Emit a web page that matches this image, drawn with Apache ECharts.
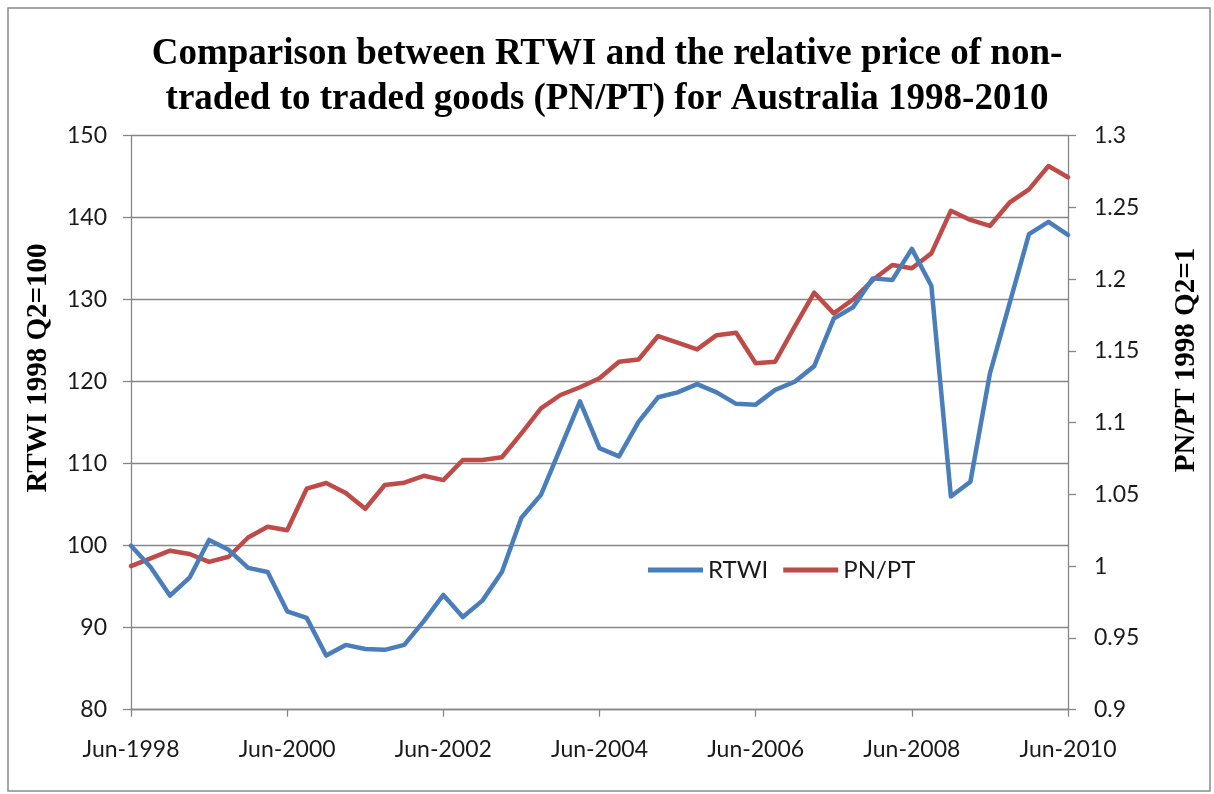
<!DOCTYPE html>
<html>
<head>
<meta charset="utf-8">
<script src="https://cdn.jsdelivr.net/npm/echarts@6/dist/echarts.min.js"></script>
<style>
html,body{margin:0;padding:0;background:#fff;}
#chart{width:1214px;height:794px;}
</style>
</head>
<body>
<div id="chart"></div>
<script>
// Quarterly categories Jun-1998 .. Jun-2010
const quarters = [
  'Jun-1998','Sep-1998','Dec-1998','Mar-1999','Jun-1999','Sep-1999','Dec-1999','Mar-2000',
  'Jun-2000','Sep-2000','Dec-2000','Mar-2001','Jun-2001','Sep-2001','Dec-2001','Mar-2002',
  'Jun-2002','Sep-2002','Dec-2002','Mar-2003','Jun-2003','Sep-2003','Dec-2003','Mar-2004',
  'Jun-2004','Sep-2004','Dec-2004','Mar-2005','Jun-2005','Sep-2005','Dec-2005','Mar-2006',
  'Jun-2006','Sep-2006','Dec-2006','Mar-2007','Jun-2007','Sep-2007','Dec-2007','Mar-2008',
  'Jun-2008','Sep-2008','Dec-2008','Mar-2009','Jun-2009','Sep-2009','Dec-2009','Mar-2010',
  'Jun-2010'
];
const rtwi = [
  100.0, 97.4, 93.9, 96.1, 100.7, 99.5, 97.3, 96.8,
  92.0, 91.2, 86.6, 87.9, 87.4, 87.3, 87.9, 90.8,
  94.0, 91.3, 93.3, 96.8, 103.4, 106.2, 111.9, 117.6,
  111.9, 110.9, 115.1, 118.1, 118.7, 119.7, 118.7, 117.3,
  117.2, 119.0, 120.0, 121.9, 127.7, 129.1, 132.6, 132.4,
  136.2, 131.7, 106.0, 107.8, 121.0, 129.5, 138.0, 139.5,
  137.9
];
const pnpt = [
  1.000, 1.0055, 1.0108, 1.0085, 1.003, 1.0066, 1.020, 1.0275,
  1.025, 1.054, 1.058, 1.051, 1.040, 1.0566, 1.0582, 1.063,
  1.060, 1.074, 1.074, 1.0759, 1.0926, 1.110, 1.1193, 1.1247,
  1.131, 1.1425, 1.144, 1.1604, 1.1558, 1.1511, 1.161, 1.1627,
  1.1414, 1.1425, 1.1669, 1.1906, 1.1762, 1.186, 1.1994, 1.2099,
  1.2076, 1.218, 1.2477, 1.2413, 1.2371, 1.2533, 1.2626, 1.2789,
  1.271
];
const seriesNames = ['RTWI', 'PN/PT'];
const titleText = 'Comparison between RTWI and the relative price of non-\ntraded to traded goods (PN/PT) for Australia 1998-2010';
const leftAxisName = 'RTWI 1998 Q2=100';
const rightAxisName = 'PN/PT 1998 Q2=1';

const chart = echarts.init(document.getElementById('chart'), null, {renderer: 'canvas'});
const axisGray = '#868686';
const tickFont = {fontFamily: 'Lato', fontSize: 23, color: '#1a1a1a'};

chart.setOption({
  animation: false,
  backgroundColor: '#ffffff',
  title: {
    text: titleText,
    left: 'center',
    top: 27,
    textStyle: {fontFamily: 'Liberation Serif', fontWeight: 'bold', fontSize: 37, lineHeight: 45, color: '#000'}
  },
  legend: {
    data: seriesNames,
    left: 643,
    top: 553,
    icon: 'rect',
    itemWidth: 55,
    itemHeight: 5,
    itemGap: 15,
    textStyle: {fontFamily: 'Lato', fontSize: 24, color: '#1a1a1a', padding: [0, 0, 0, 0]}
  },
  grid: {left: 131, right: 146, top: 135.7, bottom: 84.3, containLabel: false},
  xAxis: {
    type: 'category',
    data: quarters,
    boundaryGap: false,
    axisLine: {show: true, lineStyle: {color: axisGray, width: 1.3}},
    axisTick: {show: true, interval: 7, length: 7, lineStyle: {color: axisGray, width: 1.3}},
    axisLabel: Object.assign({interval: 7, margin: 28}, tickFont),
    splitLine: {show: false}
  },
  yAxis: [
    {
      type: 'value', min: 80, max: 150, interval: 10, position: 'left',
      axisLine: {show: true, lineStyle: {color: axisGray, width: 1.3}},
      axisTick: {show: true, length: 8, lineStyle: {color: axisGray, width: 1.3}},
      axisLabel: Object.assign({margin: 24}, tickFont),
      splitLine: {show: true, lineStyle: {color: axisGray, width: 1.3}}
    },
    {
      type: 'value', min: 0.9, max: 1.3, interval: 0.05, position: 'right',
      axisLine: {show: true, lineStyle: {color: axisGray, width: 1.3}},
      axisTick: {show: true, length: 8, lineStyle: {color: axisGray, width: 1.3}},
      axisLabel: Object.assign({margin: 26, formatter: v => String(Math.round(v * 100) / 100)}, tickFont),
      splitLine: {show: false}
    }
  ],
  series: [
    {
      name: seriesNames[0], type: 'line', data: rtwi, yAxisIndex: 0,
      showSymbol: false, symbol: 'none',
      lineStyle: {color: '#4A7EBB', width: 4.5, join: 'round', cap: 'round'},
      itemStyle: {color: '#4A7EBB'}, z: 3
    },
    {
      name: seriesNames[1], type: 'line', data: pnpt, yAxisIndex: 1,
      showSymbol: false, symbol: 'none',
      lineStyle: {color: '#BE4B48', width: 4.5, join: 'round', cap: 'round'},
      itemStyle: {color: '#BE4B48'}, z: 2
    }
  ],
  graphic: [
    {
      type: 'rect', z: -1, silent: true,
      shape: {x: 8, y: 8, width: 1202, height: 783},
      style: {fill: 'none', stroke: '#8a8a8a', lineWidth: 1.5}
    },
    {
      type: 'text', x: 39, y: 368, rotation: Math.PI / 2,
      style: {text: leftAxisName, fontFamily: 'Liberation Serif', fontWeight: 'bold', fontSize: 29,
              fill: '#000', align: 'center', verticalAlign: 'middle'}
    },
    {
      type: 'text', x: 1187, y: 360, rotation: Math.PI / 2,
      style: {text: rightAxisName, fontFamily: 'Liberation Serif', fontWeight: 'bold', fontSize: 29,
              fill: '#000', align: 'center', verticalAlign: 'middle'}
    }
  ]
});
</script>
</body>
</html>
